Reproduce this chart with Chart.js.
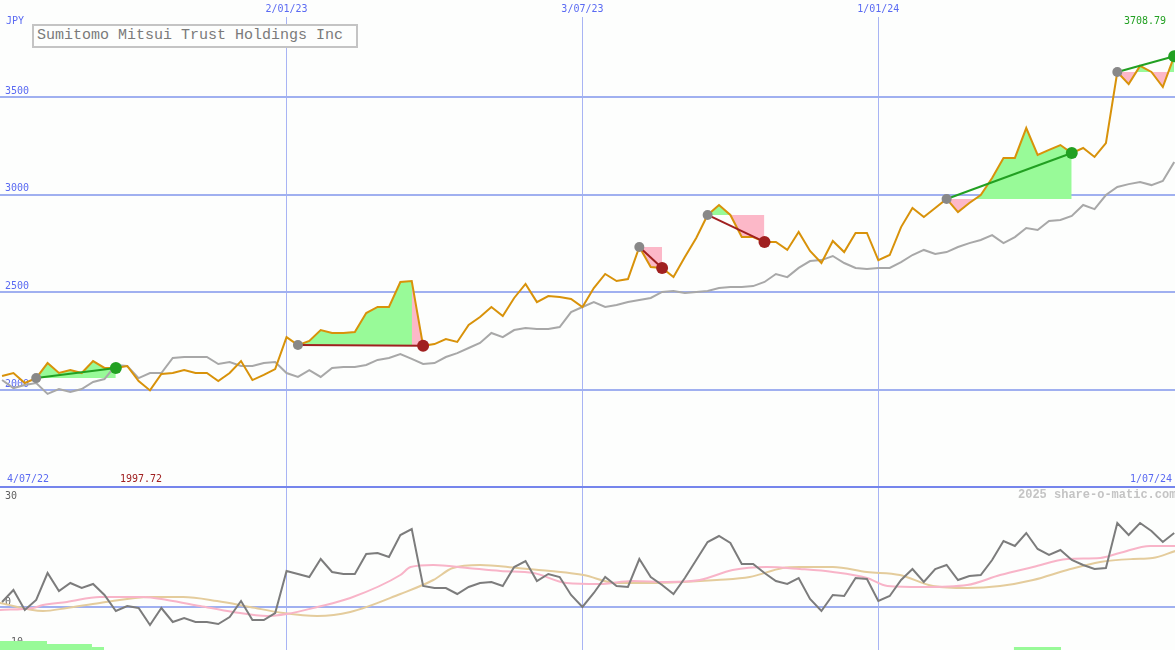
<!DOCTYPE html>
<html>
<head>
<meta charset="utf-8">
<script src="https://cdn.jsdelivr.net/npm/chart.js@4"></script>
<style>
  body { margin: 0; background: #fdfefd; }
  #wrap { position: relative; width: 1175px; height: 650px; overflow: hidden; background: #fdfefd; font-family: 'DejaVu Sans Mono', monospace; }
  .box { position: absolute; left: 0; width: 1175px; }
  .lbl { position: absolute; font-size: 10px; line-height: 12px; white-space: nowrap; }
  #title { position: absolute; left: 32px; top: 24px; width: 319px; height: 20px; border: 2px solid #c4c4c4; background: #fdfefd;
           font-family: 'Liberation Mono', monospace; font-size: 15px; line-height: 20px; color: #7a7a7a; padding-left: 3px; box-sizing: content-box; }
  #sep { position: absolute; left: 0; top: 486px; width: 1175px; height: 2px; background: #7585ec; }
</style>
</head>
<body>
<div id="wrap">
  <div class="box" style="top:0;height:487px"><canvas id="top"></canvas></div>
  <div id="sep"></div>
  <div class="box" style="top:488px;height:162px"><canvas id="bottom"></canvas></div>
  <div id="title">Sumitomo Mitsui Trust Holdings Inc</div>
  <div class="lbl" style="left:6px;top:15px;color:#5a6af2">JPY</div>
  <div class="lbl" style="left:1124px;top:15px;color:#22a022">3708.79</div>
  <div class="lbl" style="left:7px;top:473px;color:#5a6af2">4/07/22</div>
  <div class="lbl" style="left:120px;top:473px;color:#a02020">1997.72</div>
  <div class="lbl" style="left:1130px;top:473px;color:#5a6af2">1/07/24</div>
  <div class="lbl" style="left:5px;top:490px;color:#606060">30</div>
  <div class="lbl" style="left:1018px;top:489px;color:#c4c4c4;font-family:'Liberation Mono',monospace;font-size:12px;font-weight:bold">2025 share-o-matic.com</div>
</div>
<script>
// weekly closes, JPY
const price = [2072, 2087, 2036, 2061, 2138, 2087, 2102, 2087, 2148, 2113,
  2113, 2123, 2046, 1998, 2082, 2087, 2102, 2087, 2087, 2046,
  2087, 2148, 2051, 2077, 2107, 2271, 2230, 2251, 2307, 2292,
  2292, 2297, 2394, 2425, 2425, 2553, 2558, 2226, 2235, 2261,
  2246, 2333, 2374, 2425, 2379, 2471, 2543, 2450, 2481, 2476,
  2466, 2425, 2522, 2594, 2558, 2568, 2732, 2630, 2625, 2578,
  2681, 2778, 2896, 2947, 2896, 2783, 2783, 2758, 2758, 2717,
  2809, 2712, 2650, 2763, 2706, 2804, 2804, 2665, 2691, 2834,
  2932, 2886, 2932, 2978, 2911, 2957, 2998, 3085, 3188, 3188,
  3341, 3203, 3229, 3254, 3213, 3239, 3193, 3264, 3628, 3566,
  3659, 3628, 3551, 3708.79];

// grey comparison line
const compare = [2051, 2010, 2026, 2036, 1980, 2005, 1990, 2005, 2041, 2056,
  2128, 2123, 2061, 2087, 2087, 2164, 2169, 2169, 2169, 2133,
  2143, 2123, 2123, 2138, 2143, 2087, 2067, 2102, 2067, 2113,
  2118, 2118, 2128, 2154, 2164, 2184, 2159, 2133, 2138, 2169,
  2189, 2215, 2241, 2292, 2271, 2307, 2317, 2312, 2312, 2322,
  2399, 2425, 2450, 2425, 2435, 2450, 2461, 2471, 2502, 2507,
  2497, 2502, 2507, 2522, 2527, 2527, 2532, 2553, 2594, 2578,
  2625, 2660, 2665, 2686, 2650, 2625, 2619, 2625, 2625, 2655,
  2691, 2717, 2696, 2706, 2732, 2752, 2768, 2793, 2752, 2783,
  2829, 2819, 2865, 2870, 2891, 2947, 2926, 2998, 3039, 3054,
  3065, 3049, 3070, 3167];

// trades: entry / exit week
const tradeIn = [3, 26, 56, 62, 83, 98];
const tradeOut = [10, 37, 58, 67, 94, 103];
const lossTail = [36, 37];

// lower panel
const osc = [1.25, 4.25, -0.75, 1.75, 8.5, 4, 6, 4.75, 5.75, 3,
  -1, 0.25, -0.25, -4.5, -0.25, -3.75, -2.75, -3.75, -3.75, -4.25,
  -2.5, 1.5, -3.25, -3.25, -1.5, 9, 8.25, 7.5, 12, 8.75,
  8.25, 8.25, 13.25, 13.5, 12.5, 18, 19.5, 5.25, 4.75, 4.75,
  3.25, 5, 6, 6.25, 5.25, 10, 11.5, 6.5, 8.25, 7.5,
  3, 0, 3.5, 7.5, 5.25, 5, 12, 7.5, 5.5, 3.25,
  7.25, 11.75, 16.25, 17.75, 16, 10.75, 10.75, 8.5, 6.5, 5.75,
  7.25, 2, -1, 3, 2.75, 7.25, 7, 1.5, 2.75, 6.75,
  9.5, 6.25, 9.5, 10.5, 6.75, 7.75, 8, 11.75, 16.5, 15.25,
  18.5, 14.5, 13, 14.25, 11.75, 10.5, 9.5, 9.75, 21, 18,
  21, 19, 16.25, 18.5];

const pinkIdx = [-0.2, 2.7, 3.6, 5.7, 8.6, 12.4, 14.5, 17.4, 20.3, 23.3, 25, 27.7, 30.6, 35, 35.9, 37.9, 40.9,
  43.8, 46.7, 49.6, 52.5, 55.4, 58.4, 61.3, 64.2, 67.2, 70.1, 73, 76, 77.8, 80.9, 84.8, 87.7, 90.6, 93.6,
  96.5, 98.2, 100.9, 103.1];
const pinkVal = [-0.75, -0.25, 0.5, 1.25, 2.5, 2.5, 1.75, 0.25, -1.25, -2.25, -1.75, 0, 2.25, 8, 10, 10.5, 9.75,
  9, 8.5, 6, 5.75, 6.5, 6.25, 6.75, 9.25, 10, 9.5, 8.75, 7.25, 5.25, 5, 5.5, 8, 10, 12,
  12.25, 13.5, 15.25, 15.25];

const tanIdx = [-0.2, 3.6, 5.7, 8.6, 13, 15.9, 18.9, 21.8, 24.7, 27.7, 30.6, 35, 37.9, 39.6, 42, 45.3, 48.2,
  51.1, 54, 56.9, 59.8, 62.8, 65.7, 68.6, 70.1, 73, 76, 78.9, 81.8, 84.8, 87.7, 90.6, 93.6, 96.5, 99.4,
  101.1, 103.1];
const tanVal = [1, -1, -0.25, 1, 2.5, 2.5, 1.5, 0, -1.5, -2.25, -1.25, 3.25, 6.75, 9.75, 10.5, 9.75, 9,
  8, 6, 6, 6.25, 6.75, 7.5, 9.75, 10, 10, 8.75, 8, 5.25, 4.75, 5.25, 6.75, 9.25, 11.25, 12,
  12.25, 14];

const sigFrom = [-0.2, 3.95, 7.9, 88.9];
const sigTo = [3.95, 7.9, 8.96, 93.06];
const sigVal = [-8.5, -9.25, -10, -10];

const xTicks = [25, 51, 77];
const xTickLabels = ['2/01/23', '3/07/23', '1/01/24'];
const yTicks = [2000, 2500, 3000, 3500];
const oscTicks = [0, -10];

const BLUE = '#5a6af2';
const GREEN_FILL = '#98fa98';
const PINK_FILL = '#fcb8c8';

Chart.defaults.font.family = "'DejaVu Sans Mono', monospace";
Chart.defaults.font.size = 10;

const pts = arr => arr.map((v, i) => ({x: i, y: v}));
const xMin = -0.18, xMax = 103.07;

// scales sit inside the plot, so drop the padding chart.js reserves for labels
const flatX = h => s => { s.height = h; s.paddingLeft = 0; s.paddingRight = 0; };
const flatY = s => { s.width = 0; s.paddingTop = 0; s.paddingBottom = 0; };

const topSets = [];
tradeIn.forEach((a, k) => {
  const b = tradeOut[k];
  topSets.push({
    data: price.slice(a, b + 1).map((v, j) => ({x: a + j, y: v})),
    borderWidth: 0, pointRadius: 0, order: 20,
    fill: {target: {value: price[a]}, above: GREEN_FILL, below: PINK_FILL}
  });
});
topSets.push({
  data: lossTail.map(i => ({x: i, y: price[i]})),
  borderWidth: 0, pointRadius: 0, order: 19,
  fill: {target: {value: price[tradeIn[1]]}, above: PINK_FILL, below: PINK_FILL}
});
topSets.push({data: pts(compare), borderColor: '#a8a8a8', borderWidth: 2, pointRadius: 0, order: 10});
topSets.push({data: pts(price), borderColor: '#d8920a', borderWidth: 2, pointRadius: 0, order: 8});
tradeIn.forEach((a, k) => {
  const b = tradeOut[k];
  const win = price[b] >= price[a];
  topSets.push({
    data: [{x: a, y: price[a]}, {x: b, y: price[b]}],
    borderColor: win ? '#22a022' : '#a02020', borderWidth: 2,
    pointRadius: [5, 6], pointBorderWidth: 0,
    pointBackgroundColor: ['#888888', win ? '#22a022' : '#a02020'],
    order: 4
  });
});

new Chart(document.getElementById('top'), {
  type: 'line',
  data: {datasets: topSets},
  options: {
    responsive: true, maintainAspectRatio: false, animation: false,
    layout: {padding: 0, autoPadding: false},
    plugins: {legend: {display: false}, tooltip: {enabled: false}},
    scales: {
      x: {
        type: 'linear', position: 'top', min: xMin, max: xMax,
        afterBuildTicks: s => { s.ticks = xTicks.map(v => ({value: v})); },
        afterFit: flatX(17),
        ticks: {autoSkip: false, maxRotation: 0, padding: 2, color: BLUE, callback: (v, i) => xTickLabels[i]},
        grid: {color: '#a8b4f4', lineWidth: 1, drawTicks: false},
        border: {display: false}
      },
      y: {
        min: 1503.5, max: 3909.4,
        afterBuildTicks: s => { s.ticks = yTicks.map(v => ({value: v})); },
        afterFit: flatY,
        ticks: {mirror: true, padding: 5, labelOffset: -6, color: BLUE, callback: v => String(v)},
        grid: {color: '#a0b0f0', lineWidth: 2, drawTicks: false},
        border: {display: false}
      }
    }
  }
});

const botSets = [];
sigFrom.forEach((a, k) => {
  botSets.push({
    data: [{x: a, y: sigVal[k]}, {x: sigTo[k], y: sigVal[k]}],
    borderWidth: 0, pointRadius: 0, fill: 'start', backgroundColor: GREEN_FILL, order: 20
  });
});
botSets.push({data: tanIdx.map((x, i) => ({x, y: tanVal[i]})), borderColor: '#e4cc9c', borderWidth: 2,
  pointRadius: 0, cubicInterpolationMode: 'monotone', order: 12});
botSets.push({data: pinkIdx.map((x, i) => ({x, y: pinkVal[i]})), borderColor: '#f8b4c8', borderWidth: 2,
  pointRadius: 0, cubicInterpolationMode: 'monotone', order: 11});
botSets.push({data: pts(osc), borderColor: '#7c7c7c', borderWidth: 2, pointRadius: 0, order: 5});

new Chart(document.getElementById('bottom'), {
  type: 'line',
  data: {datasets: botSets},
  options: {
    responsive: true, maintainAspectRatio: false, animation: false,
    layout: {padding: 0, autoPadding: false},
    plugins: {legend: {display: false}, tooltip: {enabled: false}},
    scales: {
      x: {
        type: 'linear', min: xMin, max: xMax,
        afterBuildTicks: s => { s.ticks = xTicks.map(v => ({value: v})); },
        afterFit: flatX(0),
        ticks: {display: false},
        grid: {color: '#a8b4f4', lineWidth: 1, drawTicks: false},
        border: {display: false}
      },
      y: {
        min: -10.75, max: 29.75, z: 1,
        afterBuildTicks: s => { s.ticks = oscTicks.map(v => ({value: v})); },
        afterFit: flatY,
        ticks: {mirror: true, padding: 5, labelOffset: -5, color: '#606060', callback: v => String(v)},
        grid: {color: c => c.tick && c.tick.value === 0 ? '#a0b0f0' : 'rgba(0,0,0,0)', lineWidth: 2, drawTicks: false},
        border: {display: false}
      }
    }
  }
});
</script>
</body>
</html>
